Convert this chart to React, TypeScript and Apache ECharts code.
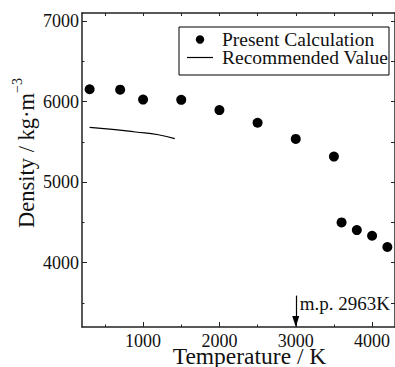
import React, { useEffect, useRef } from "react";
import * as echarts from "echarts";

const calcTemps = [300, 700, 1000, 1500, 2000, 2500, 3000, 3500, 3600, 3800, 4000, 4200];
const calcDensity = [6153, 6148, 6025, 6021, 5894, 5737, 5536, 5317, 4499, 4404, 4333, 4194];

const recTemps = [300, 600, 900, 1200, 1415];
const recDensity = [5680, 5655, 5622, 5588, 5540];

const xMajor = [1000, 2000, 3000, 4000];
const xMinor = [500, 1500, 2500, 3500];
const yMajor = [4000, 5000, 6000, 7000];
const yMinor = [3500, 4500, 5500, 6500];

const X_MIN = 200;
const X_MAX = 4300;
const Y_MIN = 3200;
const Y_MAX = 7100;

const meltPointLabel = "m.p. 2963K";
const meltArrowX = 3000;
const meltArrowTop = 3590;

const FONT = "Liberation Serif";
const AXIS_COLOR = "#222";

export default function App() {
  const ref = useRef<HTMLDivElement>(null);
  useEffect(() => {
    if (!ref.current) return;
    const chart = echarts.init(ref.current, undefined, { renderer: "svg" });

    const baseX = {
      type: "value" as const,
      min: X_MIN,
      max: X_MAX,
      splitLine: { show: false },
    };
    const baseY = {
      type: "value" as const,
      min: Y_MIN,
      max: Y_MAX,
      splitLine: { show: false },
    };
    const lineStyle = { color: AXIS_COLOR, width: 1.5 };
    const plain = (v: number) => String(v);

    chart.setOption({
      animation: false,
      backgroundColor: "#fff",
      grid: { left: 82, top: 13, right: -2, bottom: 40, containLabel: false },
      xAxis: [
        {
          ...baseX,
          position: "bottom",
          axisLine: { show: true, lineStyle },
          axisTick: { show: true, inside: true, length: 5, customValues: xMajor, lineStyle: { color: AXIS_COLOR, width: 1 } },
          axisLabel: { show: true, customValues: xMajor, formatter: plain, fontSize: 18, fontFamily: FONT, color: "#111", margin: 5 },
        },
        {
          ...baseX,
          position: "bottom",
          axisLine: { show: false },
          axisTick: { show: true, inside: true, length: 2.5, customValues: xMinor, lineStyle: { color: AXIS_COLOR, width: 1 } },
          axisLabel: { show: false },
        },
        {
          ...baseX,
          position: "top",
          axisLine: { show: true, lineStyle },
          axisTick: { show: true, inside: true, length: 3, customValues: [...xMinor, ...xMajor], lineStyle: { color: AXIS_COLOR, width: 1 } },
          axisLabel: { show: false },
        },
      ],
      yAxis: [
        {
          ...baseY,
          position: "left",
          axisLine: { show: true, lineStyle },
          axisTick: { show: true, inside: true, length: 5, customValues: yMajor, lineStyle: { color: AXIS_COLOR, width: 1 } },
          axisLabel: { show: true, customValues: yMajor, formatter: plain, fontSize: 18, fontFamily: FONT, color: "#111", margin: 3 },
        },
        {
          ...baseY,
          position: "left",
          axisLine: { show: false },
          axisTick: { show: true, inside: true, length: 2.5, customValues: yMinor, lineStyle: { color: AXIS_COLOR, width: 1 } },
          axisLabel: { show: false },
        },
        {
          ...baseY,
          position: "right",
          axisLine: { show: true, lineStyle },
          axisTick: { show: true, inside: true, length: 4, customValues: [...yMinor, ...yMajor], lineStyle: { color: AXIS_COLOR, width: 1 } },
          axisLabel: { show: false },
        },
      ],
      series: [
        {
          type: "scatter",
          name: "Present Calculation",
          xAxisIndex: 0,
          yAxisIndex: 0,
          symbol: "circle",
          symbolSize: 10,
          itemStyle: { color: "#000", opacity: 1 },
          data: calcTemps.map((t, i) => [t, calcDensity[i]]),
          markLine: {
            silent: true,
            symbol: ["none", "triangle"],
            symbolSize: [7, 11],
            label: { show: false },
            lineStyle: { color: "#000", width: 1.2, type: "solid", opacity: 1 },
            itemStyle: { color: "#000" },
            data: [[{ coord: [meltArrowX, meltArrowTop] }, { coord: [meltArrowX, Y_MIN + 68] }]],
          },
          markPoint: {
            silent: true,
            symbol: "circle",
            symbolSize: 0,
            label: {
              show: true,
              position: "right",
              distance: 4,
              formatter: meltPointLabel,
              fontSize: 19,
              fontFamily: FONT,
              color: "#111",
            },
            data: [{ coord: [meltArrowX, 3490] }],
          },
        },
        {
          type: "line",
          name: "Recommended Value",
          xAxisIndex: 0,
          yAxisIndex: 0,
          showSymbol: false,
          symbol: "none",
          smooth: true,
          lineStyle: { color: "#000", width: 1.2 },
          data: recTemps.map((t, i) => [t, recDensity[i]]),
        },
      ],
      graphic: [
        {
          type: "rect",
          shape: { x: 179, y: 27, width: 210, height: 48 },
          style: { fill: "#fff", stroke: "#000", lineWidth: 1 },
          z: 10,
        },
        {
          type: "circle",
          shape: { cx: 200, cy: 39.5, r: 4.2 },
          style: { fill: "#000" },
          z: 11,
        },
        {
          type: "line",
          shape: { x1: 187, y1: 57.5, x2: 213, y2: 57.5 },
          style: { stroke: "#000", lineWidth: 1.2 },
          z: 11,
        },
        {
          type: "text",
          x: 222,
          y: 39.5,
          style: { text: "Present Calculation", fontSize: 19.5, fontFamily: FONT, fill: "#111", verticalAlign: "middle", align: "left" },
          z: 11,
        },
        {
          type: "text",
          x: 222,
          y: 57.5,
          style: { text: "Recommended Value", fontSize: 19.5, fontFamily: FONT, fill: "#111", verticalAlign: "middle", align: "left" },
          z: 11,
        },
        {
          type: "text",
          x: 249.5,
          y: 355.5,
          style: { text: "Temperature / K", fontSize: 23.5, lineHeight: 22, fontFamily: FONT, fill: "#111", verticalAlign: "middle", align: "center" },
        },
        {
          type: "text",
          x: 24,
          y: 153,
          rotation: Math.PI / 2,
          style: {
            text: "{a|Density / kg·m}{sup|−3}",
            fontFamily: FONT,
            fill: "#111",
            align: "center",
            verticalAlign: "middle",
            rich: {
              a: { fontSize: 22.5, fontFamily: FONT, fill: "#111", lineHeight: 28, verticalAlign: "bottom" },
              sup: { fontSize: 14, fontFamily: FONT, fill: "#111", lineHeight: 14, verticalAlign: "top" },
            },
          },
        },
      ],
    });
    return () => chart.dispose();
  }, []);
  return (
    <div
      ref={ref}
      style={{ position: "fixed", left: 0, top: 0, width: 395, height: 367, background: "#fff" }}
    />
  );
}
